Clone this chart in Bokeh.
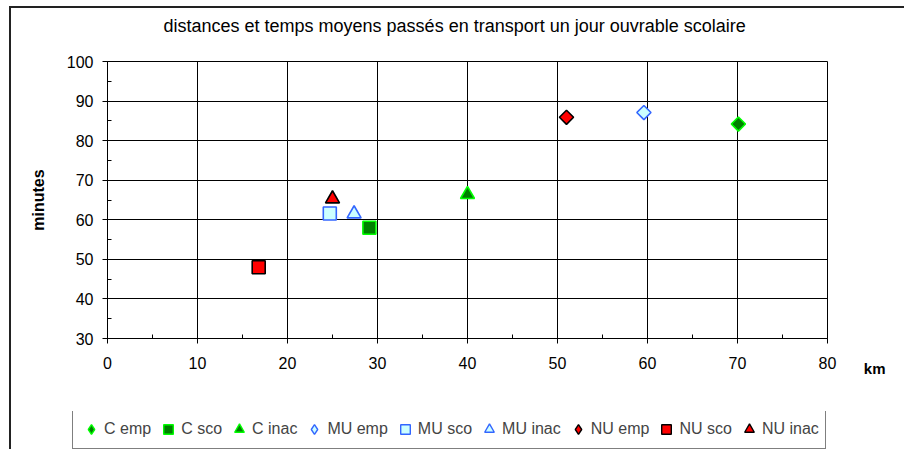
import math
from bokeh.plotting import figure
from bokeh.layouts import column
from bokeh.models import (Range1d, SingleIntervalTicker, Title, Legend, LegendItem, ColumnDataSource)
from bokeh.embed import file_html
from bokeh.resources import INLINE

# ---- data ----
series_names = ["C emp", "C sco", "C inac", "MU emp", "MU sco", "MU inac", "NU emp", "NU sco", "NU inac"]
km_values = [70.1, 29.1, 40.0, 59.6, 24.7, 27.4, 51.0, 16.8, 25.0]
minutes_values = [84.2, 58.0, 66.4, 87.1, 61.6, 61.5, 85.9, 48.0, 65.3]
x_ticks = [0, 10, 20, 30, 40, 50, 60, 70, 80]
y_ticks = [30, 40, 50, 60, 70, 80, 90, 100]
title_text = "distances et temps moyens passés en transport un jour ouvrable scolaire"
x_label = "km"
y_label = "minutes"

# ---- styles ----
# plot markers (diamond = rotated square) and legend markers
marker_kind = {"emp": "square", "sco": "square", "inac": "triangle"}
legend_marker_kind = {"emp": "diamond", "sco": "square", "inac": "triangle"}
marker_angle = {"emp": math.pi / 4, "sco": 0.0, "inac": 0.0}
marker_size = {"emp": 10, "sco": 13, "inac": 14}
fill_col = {"C": "#008000", "MU": "#ccffff", "NU": "#ff0000"}
line_col = {"C": "#00ff00", "MU": "#3366ff", "NU": "#000000"}

FONT = "Liberation Sans"

p = figure(width=893, height=403, output_backend="svg", toolbar_location=None,
           x_range=Range1d(0, 80), y_range=Range1d(30, 100),
           min_border_left=96, min_border_top=53, min_border_right=77, min_border_bottom=73)
p.background_fill_color = "white"
p.border_fill_color = "white"
p.outline_line_color = "black"
p.outline_line_width = 1

# title (with a blank spacer title between it and the frame)
main_title = Title(text=title_text, align="left", offset=56, standoff=0,
                   text_font=FONT, text_font_size="18px", text_font_style="normal",
                   text_color="black")
spacer = Title(text=" ", standoff=8, text_font=FONT, text_font_size="14px")
p.title = None
p.above = [spacer, main_title]

for ax in (p.xaxis[0], p.yaxis[0]):
    ax.ticker = SingleIntervalTicker(interval=10, num_minor_ticks=2)
    ax.axis_line_color = "black"
    ax.major_tick_line_color = "black"
    ax.minor_tick_line_color = "black"
    ax.major_tick_out = 5
    ax.major_tick_in = 0
    ax.minor_tick_in = 4
    ax.minor_tick_out = 0
    ax.major_label_text_font = FONT
    ax.major_label_text_font_size = "16px"
    ax.major_label_text_color = "black"
p.xaxis.major_label_standoff = 13
p.yaxis.major_label_standoff = 9

p.yaxis.axis_label = y_label
p.yaxis.axis_label_text_font = FONT
p.yaxis.axis_label_text_font_size = "16px"
p.yaxis.axis_label_text_font_style = "bold"
p.yaxis.axis_label_text_color = "black"
p.yaxis.axis_label_standoff = 17

p.xgrid.grid_line_color = "black"
p.ygrid.grid_line_color = "black"
p.xgrid.grid_line_width = 1
p.ygrid.grid_line_width = 1

# legend strip (separate figure under the chart)
q = figure(width=893, height=38, output_backend="svg", toolbar_location=None,
           x_axis_type=None, y_axis_type=None, x_range=Range1d(0, 1), y_range=Range1d(0, 1),
           min_border_left=0, min_border_top=0, min_border_right=0, min_border_bottom=0)
q.outline_line_color = None
q.background_fill_color = "white"
q.border_fill_color = "white"
q.xgrid.visible = False
q.ygrid.visible = False
for fig in (p, q):
    try:
        fig.frame_align = False
    except AttributeError:
        pass

items = []
for name, xv, yv in zip(series_names, km_values, minutes_values):
    grp, kind = name.split(" ")
    p.scatter("x", "y", source=ColumnDataSource(dict(x=[xv], y=[yv])),
              marker=marker_kind[kind], angle=marker_angle[kind], size=marker_size[kind],
              fill_color=fill_col[grp], line_color=line_col[grp], line_width=1.6)
    # legend proxy: same point, out of the strip's view
    r = q.scatter("x", "y", source=ColumnDataSource(dict(x=[xv], y=[yv])),
                  marker=legend_marker_kind[kind], size=marker_size[kind],
                  fill_color=fill_col[grp], line_color=line_col[grp], line_width=1.4)
    items.append(LegendItem(label=name, renderers=[r]))

km_title = Title(text=x_label, align="right", offset=-58, standoff=-24, vertical_align="top",
                 text_font=FONT, text_font_size="15px", text_font_style="bold", text_color="black")
p.add_layout(km_title, "below")

legend = Legend(items=items, orientation="horizontal", location=(61, 0),
                label_text_font=FONT, label_text_font_size="16px",
                glyph_width=24, glyph_height=26, label_standoff=1, spacing=5,
                padding=6, margin=0, border_line_color="black", border_line_width=1,
                background_fill_color="white", background_fill_alpha=1.0,
                label_height=21)
q.add_layout(legend, "center")

layout = column(p, q, spacing=0)
layout.styles = {"border-left": "2px solid #222222", "border-top": "2px solid #222222",
                 "margin-left": "9px", "margin-top": "6px"}

open("out.html", "w").write(file_html(layout, INLINE))
